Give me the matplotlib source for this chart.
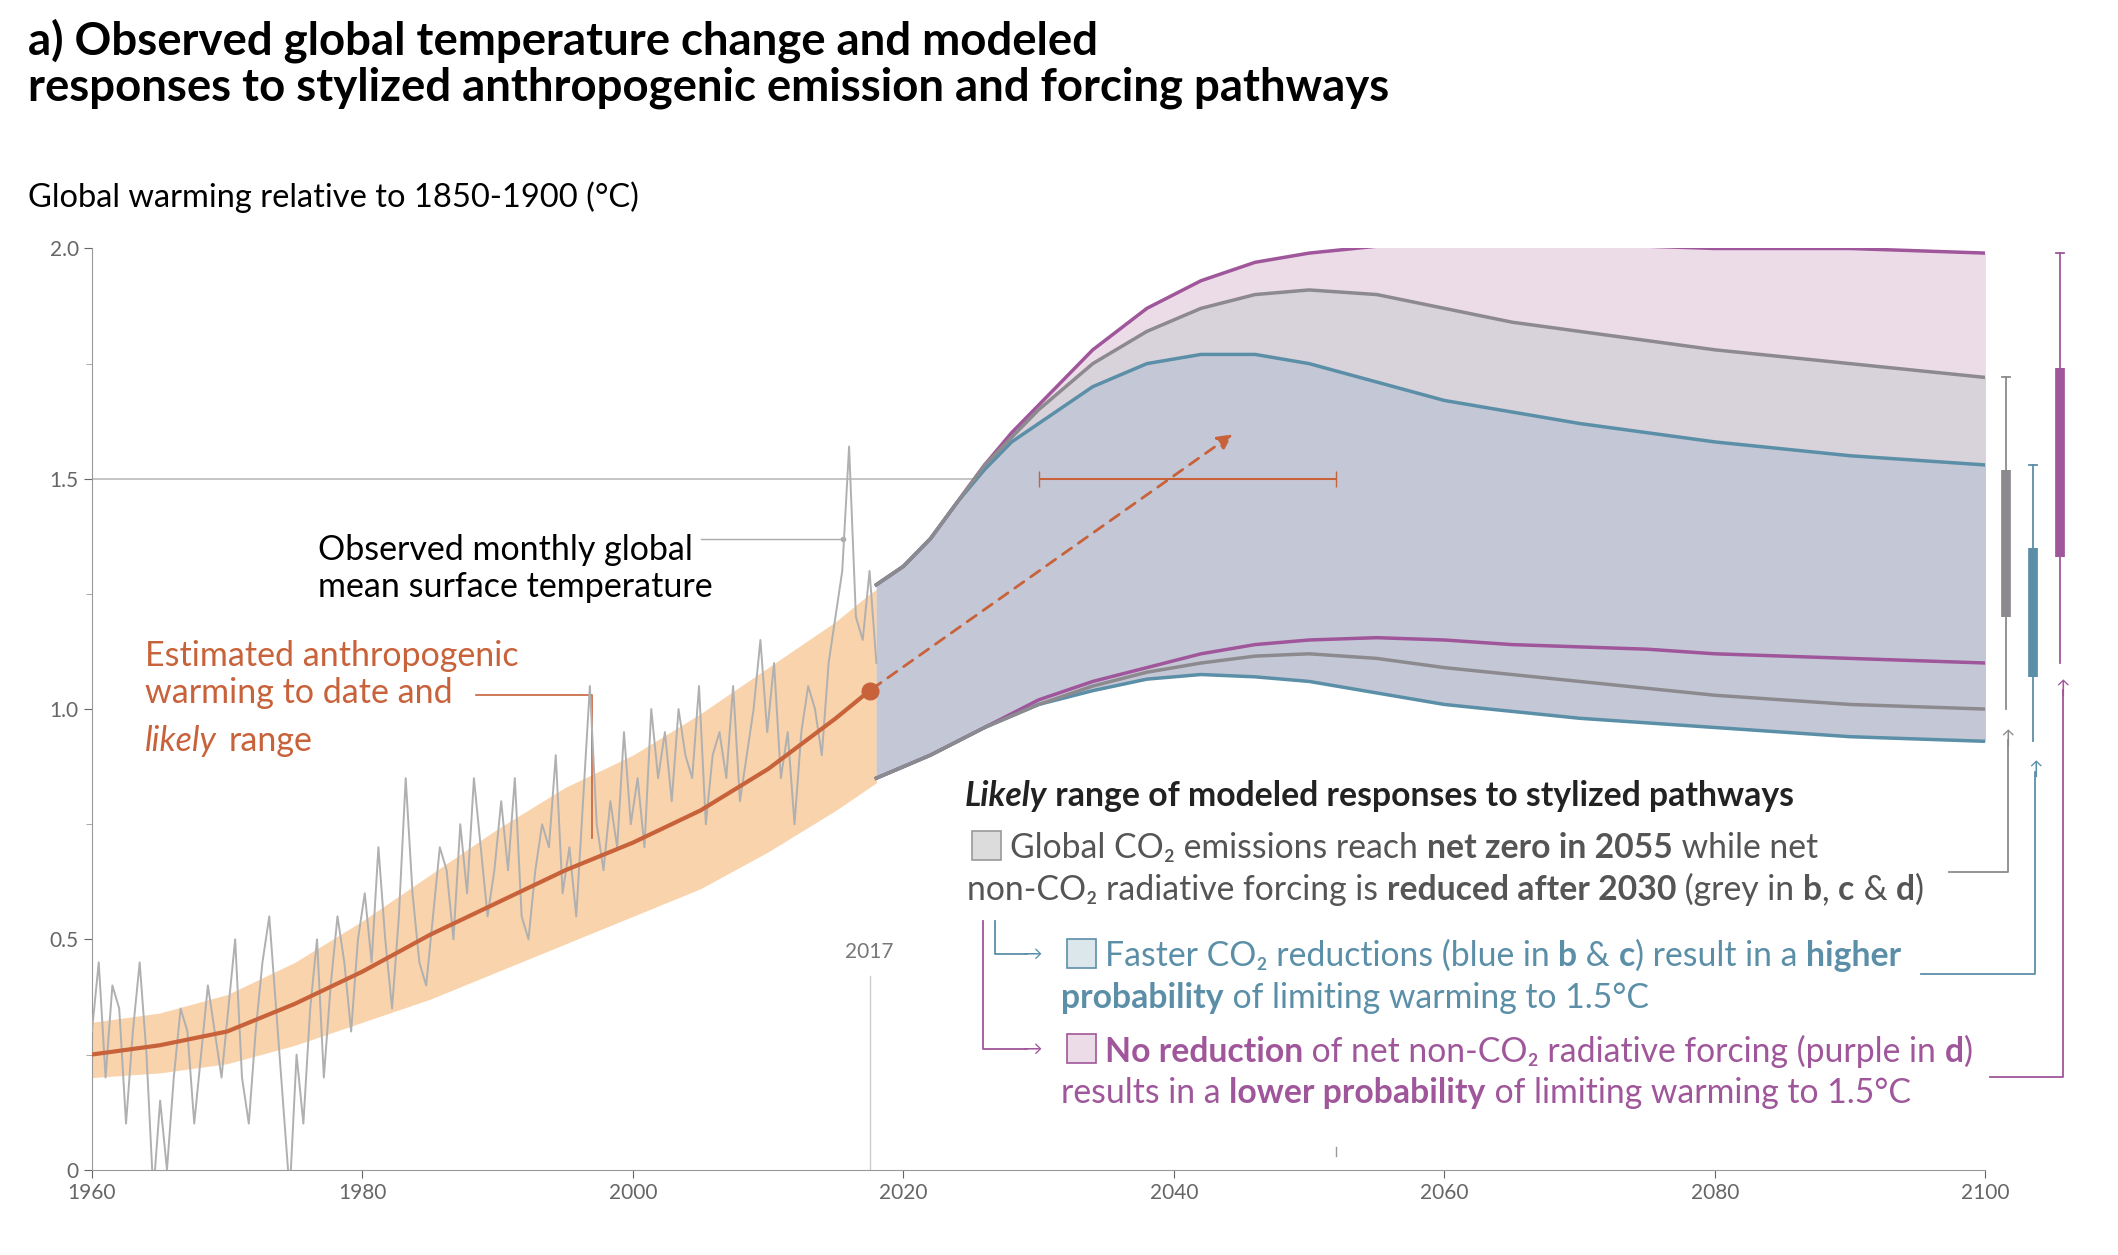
import numpy as np
import matplotlib.pyplot as plt

plt.rcParams['font.family'] = ['Lato', 'DejaVu Sans']

# observed (half-yearly estimates)
obs = [0.3,0.45,0.2,0.4,0.35,0.1,0.3,0.45,0.25,-0.05,0.15,0.0,0.2,0.35,0.3,0.1,0.25,0.4,0.3,0.2,
       0.35,0.5,0.2,0.1,0.3,0.45,0.55,0.35,0.15,-0.05,0.25,0.1,0.35,0.5,0.2,0.4,0.55,0.45,0.3,0.5,
       0.6,0.45,0.7,0.5,0.35,0.55,0.85,0.6,0.45,0.4,0.55,0.7,0.65,0.5,0.75,0.6,0.85,0.7,0.55,0.65,
       0.8,0.65,0.85,0.55,0.5,0.65,0.75,0.7,0.9,0.6,0.7,0.55,0.8,1.05,0.75,0.65,0.8,0.7,0.95,0.75,
       0.85,0.7,1.0,0.85,0.95,0.8,1.0,0.9,0.85,1.05,0.75,0.9,0.95,0.85,1.05,0.8,0.9,1.0,1.15,0.95,
       1.1,0.85,0.95,0.75,0.95,1.05,1.0,0.9,1.1,1.2,1.3,1.57,1.2,1.15,1.3,1.1]
obs_years = np.linspace(1960, 2018, len(obs))

anth_years = [1960, 1965, 1970, 1975, 1980, 1985, 1990, 1995, 2000, 2005, 2010, 2015, 2017.5, 2018]
anth = [0.25, 0.27, 0.30, 0.36, 0.43, 0.51, 0.58, 0.65, 0.71, 0.78, 0.87, 0.98, 1.04, 1.05]
anth_lo = [0.20, 0.21, 0.23, 0.27, 0.32, 0.37, 0.43, 0.49, 0.55, 0.61, 0.69, 0.78, 0.83, 0.84]
anth_hi = [0.32, 0.34, 0.38, 0.45, 0.54, 0.64, 0.74, 0.83, 0.90, 0.99, 1.09, 1.19, 1.25, 1.26]

fut_years = [2018, 2020, 2022, 2024, 2026, 2028, 2030, 2034, 2038, 2042, 2046, 2050, 2055, 2060, 2065, 2070, 2075, 2080, 2090, 2100]
grey_hi = [1.27, 1.31, 1.37, 1.45, 1.53, 1.59, 1.65, 1.75, 1.82, 1.87, 1.90, 1.91, 1.90, 1.87, 1.84, 1.82, 1.80, 1.78, 1.75, 1.72]
grey_lo = [0.85, 0.875, 0.90, 0.93, 0.96, 0.985, 1.01, 1.05, 1.08, 1.10, 1.115, 1.12, 1.11, 1.09, 1.075, 1.06, 1.045, 1.03, 1.01, 1.00]
blue_hi = [1.27, 1.31, 1.37, 1.45, 1.52, 1.58, 1.62, 1.70, 1.75, 1.77, 1.77, 1.75, 1.71, 1.67, 1.645, 1.62, 1.60, 1.58, 1.55, 1.53]
blue_lo = [0.85, 0.875, 0.90, 0.93, 0.96, 0.985, 1.01, 1.04, 1.065, 1.075, 1.07, 1.06, 1.035, 1.01, 0.995, 0.98, 0.97, 0.96, 0.94, 0.93]
purp_hi = [1.27, 1.31, 1.37, 1.45, 1.53, 1.60, 1.66, 1.78, 1.87, 1.93, 1.97, 1.99, 2.005, 2.01, 2.01, 2.01, 2.005, 2.00, 2.00, 1.99]
purp_lo = [0.85, 0.875, 0.90, 0.93, 0.96, 0.99, 1.02, 1.06, 1.09, 1.12, 1.14, 1.15, 1.155, 1.15, 1.14, 1.135, 1.13, 1.12, 1.11, 1.10]

# right-hand 2100 ranges: whisker lo, box lo, box hi, whisker hi
ranges = {'grey': (1.00, 1.20, 1.52, 1.72), 'blue': (0.93, 1.07, 1.35, 1.53), 'purple': (1.10, 1.33, 1.74, 1.99)}
range_x = {'grey': 2101.5, 'blue': 2103.5, 'purple': 2105.5}

ORANGE = '#c8623a'
GREY = '#8c8a8e'
BLUE = '#5b8fa8'
PURPLE = '#a0569a'
cols = {'grey': GREY, 'blue': BLUE, 'purple': PURPLE}

fig = plt.figure(figsize=(21.18, 12.55), dpi=100)
ax = fig.add_axes([0.0434, 0.068, 0.894, 0.734])
ax.set_xlim(1960, 2100)
ax.set_ylim(0, 2.0)

ax.axhline(1.5, color='#bbbbbb', lw=1.2, zorder=1)

ax.fill_between(anth_years, anth_lo, anth_hi, color='#f7c898', alpha=0.8, lw=0, zorder=2)
ax.plot(obs_years, obs, color='#b0b0b0', lw=1.4, zorder=3)
ax.plot(anth_years[:-1], anth[:-1], color=ORANGE, lw=3, zorder=4)
ax.plot([2017.5], [1.04], 'o', color=ORANGE, ms=12, zorder=5)

ax.fill_between(fut_years, purp_lo, purp_hi, color='#ecdce8', lw=0, zorder=2)
ax.fill_between(fut_years, grey_lo, grey_hi, color='#d8d2da', lw=0, zorder=2)
ax.fill_between(fut_years, blue_lo, grey_lo, color='#dbe7eb', lw=0, zorder=2)
ax.fill_between(fut_years, blue_lo, blue_hi, color='#c4c8d6', lw=0, zorder=2)
ax.fill_between(fut_years, np.maximum(blue_lo, grey_lo), np.minimum(blue_hi, grey_hi), color='#c4c8d6', lw=0, zorder=2)
ax.plot(fut_years, purp_hi, color=PURPLE, lw=2.5, zorder=4)
ax.plot(fut_years, purp_lo, color=PURPLE, lw=2.5, zorder=4)
ax.plot(fut_years, blue_hi, color=BLUE, lw=2.5, zorder=4)
ax.plot(fut_years, blue_lo, color=BLUE, lw=2.5, zorder=4)
ax.plot(fut_years, grey_hi, color=GREY, lw=2.5, zorder=4)
ax.plot(fut_years, grey_lo, color=GREY, lw=2.5, zorder=4)

ax.annotate('', xy=(2044.5, 1.6), xytext=(2017.5, 1.04),
            arrowprops=dict(arrowstyle='-|>', color=ORANGE, lw=2, ls=(0, (4, 3)), mutation_scale=22), zorder=5)
ax.errorbar([2041], [1.5], xerr=[[11], [11]], color=ORANGE, lw=1.5, capsize=6, zorder=5)

ax.plot([2017.5, 2017.5], [0, 0.42], color='#cccccc', lw=1)
ax.text(2017.5, 0.45, '2017', ha='center', va='bottom', fontsize=15, color='#777777')
ax.plot([2052, 2052], [0.03, 0.05], color='#999999', lw=1)

for k, (wl, bl, bh, wh) in ranges.items():
    x = range_x[k]
    ax.plot([x, x], [wl, wh], color=cols[k], lw=1.3, clip_on=False)
    ax.plot([x - 0.3, x + 0.3], [wh, wh], color=cols[k], lw=1.3, clip_on=False)
    ax.plot([x, x], [bl, bh], color=cols[k], lw=7, solid_capstyle='butt', clip_on=False)

for s in ['top', 'right']:
    ax.spines[s].set_visible(False)
ax.spines['left'].set_color('#999999')
ax.spines['bottom'].set_color('#999999')
ax.set_xticks(range(1960, 2101, 20))
ax.set_yticks([0, 0.5, 1.0, 1.5, 2.0])
ax.set_yticklabels(['0', '0.5', '1.0', '1.5', '2.0'])
ax.set_yticks(np.arange(0, 2.01, 0.25), minor=True)
ax.tick_params(labelsize=15, colors='#666666', length=6)
ax.tick_params(which='minor', length=4, colors='#999999')

fig.text(0.013, 0.985, 'a) Observed global temperature change and modeled\nresponses to stylized anthropogenic emission and forcing pathways',
         fontsize=32.8, fontweight='bold', va='top', linespacing=1.1)
fig.text(0.013, 0.835, 'Global warming relative to 1850-1900 (°C)', fontsize=23.5)

ax.text(1976.7, 1.38, 'Observed monthly global\nmean surface temperature', fontsize=24.5, va='top')
ax.plot([2005, 2015.5], [1.37, 1.37], color='#aaaaaa', lw=1)
ax.plot([2015.5], [1.37], 'o', color='#aaaaaa', ms=3)
ax.text(1963.9, 1.15, 'Estimated anthropogenic\nwarming to date and', fontsize=24.5, va='top', color=ORANGE, linespacing=1.2)
ax.text(1963.9, 0.965, 'likely', fontsize=24.5, va='top', color=ORANGE, style='italic')
ax.text(1970.1, 0.965, 'range', fontsize=24.5, va='top', color=ORANGE)
ax.plot([1988.4, 1997, 1997], [1.03, 1.03, 0.72], color=ORANGE, lw=1.2)

def rich(x, y, parts, size=24.3):
    r = fig.canvas.get_renderer()
    for txt, col, w, st in parts:
        t = fig.text(x, y, txt, fontsize=size, color=col, fontweight=w, style=st, va='baseline')
        bb = t.get_window_extent(renderer=r)
        x += bb.width / fig.bbox.width

DK = '#222222'
GT = '#555555'
rich(0.4554, 0.358, [('Likely', DK, 'bold', 'italic'), (' range of modeled responses to stylized pathways', DK, 'bold', 'normal')])
rich(0.477, 0.316, [('Global CO₂ emissions reach ', GT, 'normal', 'normal'), ('net zero in 2055', GT, 'bold', 'normal'), (' while net', GT, 'normal', 'normal')])
rich(0.4566, 0.283, [('non-CO₂ radiative forcing is ', GT, 'normal', 'normal'), ('reduced after 2030', GT, 'bold', 'normal'),
                     (' (grey in ', GT, 'normal', 'normal'), ('b', GT, 'bold', 'normal'), (', ', GT, 'normal', 'normal'),
                     ('c', GT, 'bold', 'normal'), (' & ', GT, 'normal', 'normal'), ('d', GT, 'bold', 'normal'), (')', GT, 'normal', 'normal')])
rich(0.5217, 0.230, [('Faster CO₂ reductions (blue in ', BLUE, 'normal', 'normal'), ('b', BLUE, 'bold', 'normal'), (' & ', BLUE, 'normal', 'normal'),
                    ('c', BLUE, 'bold', 'normal'), (') result in a ', BLUE, 'normal', 'normal'), ('higher', BLUE, 'bold', 'normal')])
rich(0.501, 0.197, [('probability', BLUE, 'bold', 'normal'), (' of limiting warming to 1.5°C', BLUE, 'normal', 'normal')])
rich(0.5217, 0.154, [('No reduction', PURPLE, 'bold', 'normal'), (' of net non-CO₂ radiative forcing (purple in ', PURPLE, 'normal', 'normal'),
                    ('d', PURPLE, 'bold', 'normal'), (')', PURPLE, 'normal', 'normal')])
rich(0.501, 0.121, [('results in a ', PURPLE, 'normal', 'normal'), ('lower probability', PURPLE, 'bold', 'normal'),
                    (' of limiting warming to 1.5°C', PURPLE, 'normal', 'normal')])

# legend swatches
for (x, y, fc, ec) in [(0.459, 0.315, '#dcdcdc', '#999999'), (0.504, 0.229, '#dbe7eb', BLUE), (0.504, 0.153, '#ecdce8', PURPLE)]:
    fig.patches.append(plt.Rectangle((x, y), 0.0135, 0.023, transform=fig.transFigure, fc=fc, ec=ec, lw=1.2))

# connector lines (figure coords)
def fl(xs, ys, c):
    fig.add_artist(plt.Line2D(xs, ys, color=c, lw=1.3, transform=fig.transFigure))
fl([0.92, 0.948, 0.948], [0.305, 0.305, 0.41], GREY)
fig.text(0.948, 0.405, '↑', color=GREY, ha='center', va='bottom', fontsize=14)
fl([0.907, 0.961, 0.961], [0.224, 0.224, 0.385], BLUE)
fig.text(0.961, 0.38, '↑', color=BLUE, ha='center', va='bottom', fontsize=14)
fl([0.9395, 0.974, 0.974], [0.142, 0.142, 0.45], PURPLE)
fig.text(0.974, 0.445, '↑', color=PURPLE, ha='center', va='bottom', fontsize=14)
fl([0.470, 0.470, 0.485], [0.266, 0.240, 0.240], BLUE)
fig.text(0.483, 0.240, '→', color=BLUE, va='center', fontsize=14)
fl([0.464, 0.464, 0.485], [0.266, 0.164, 0.164], PURPLE)
fig.text(0.483, 0.164, '→', color=PURPLE, va='center', fontsize=14)

fig.savefig('out.png', dpi=100)
